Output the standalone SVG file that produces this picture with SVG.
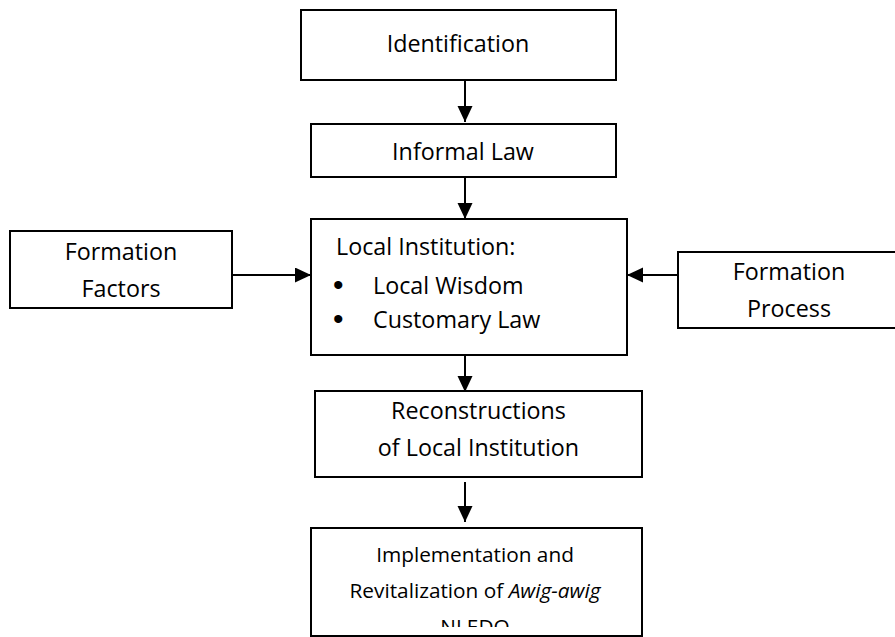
<svg xmlns="http://www.w3.org/2000/svg" width="895" height="637" viewBox="0 0 895 637">
<style>
.box{fill:#fff;stroke:#000;stroke-width:2}
.t{font-family:"Open Sans","Liberation Sans",sans-serif;font-size:23.3px;fill:#000}
.c{text-anchor:middle}
.s{font-size:20.8px}
.con{fill:none;stroke:#000;stroke-width:2}
</style>
<defs>
<marker id="ah" markerUnits="userSpaceOnUse" markerWidth="18" markerHeight="16" refX="16" refY="7.5" orient="auto">
<path d="M0,0 L16,7.5 L0,15 Z" fill="#000"/>
</marker>
<clipPath id="clipImpl"><rect x="311" y="528" width="331" height="99"/></clipPath>
</defs>
<g id="connectors">
<path class="con" d="M465,80 V122" marker-end="url(#ah)"/>
<path class="con" d="M465,177 V219" marker-end="url(#ah)"/>
<path class="con" d="M465,355 V392" marker-end="url(#ah)"/>
<path class="con" d="M465,482 V522" marker-end="url(#ah)"/>
<path class="con" d="M232,275 H311" marker-end="url(#ah)"/>
<path class="con" d="M678,275 H627" marker-end="url(#ah)"/>
</g>
<g id="identification">
<rect class="box" x="301" y="10" width="315" height="70"/>
<text class="t c" x="458" y="52">Identification</text>
</g>
<g id="informal-law">
<rect class="box" x="311" y="124" width="305" height="53"/>
<text class="t c" x="463" y="160">Informal Law</text>
</g>
<g id="local-institution">
<rect class="box" x="311" y="219" width="316" height="136"/>
<text class="t" x="336" y="255">Local Institution:</text>
<text class="t" x="333" y="295" style="font-family:'Liberation Sans',sans-serif;font-size:30px">•</text>
<text class="t" x="373" y="294">Local Wisdom</text>
<text class="t" x="333" y="329" style="font-family:'Liberation Sans',sans-serif;font-size:30px">•</text>
<text class="t" x="373" y="328">Customary Law</text>
</g>
<g id="formation-factors">
<rect class="box" x="10" y="231" width="222" height="77"/>
<text class="t c" x="121" y="260">Formation</text>
<text class="t c" x="121" y="297">Factors</text>
</g>
<g id="formation-process">
<rect class="box" x="678" y="252" width="222" height="76"/>
<text class="t c" x="789" y="280">Formation</text>
<text class="t c" x="789" y="317">Process</text>
</g>
<g id="reconstructions">
<rect class="box" x="315" y="391" width="327" height="86"/>
<text class="t c" x="478.5" y="419">Reconstructions</text>
<text class="t c" x="478.5" y="456">of Local Institution</text>
</g>
<g id="implementation">
<rect class="box" x="311" y="528" width="331" height="108"/>
<g clip-path="url(#clipImpl)">
<text class="t s c" x="475" y="562">Implementation and</text>
<text class="t s c" x="475" y="598">Revitalization of <tspan font-style="italic">Awig-awig</tspan></text>
<text class="t s c" x="475" y="634">NLEDO</text>
</g>
</g>
</svg>
